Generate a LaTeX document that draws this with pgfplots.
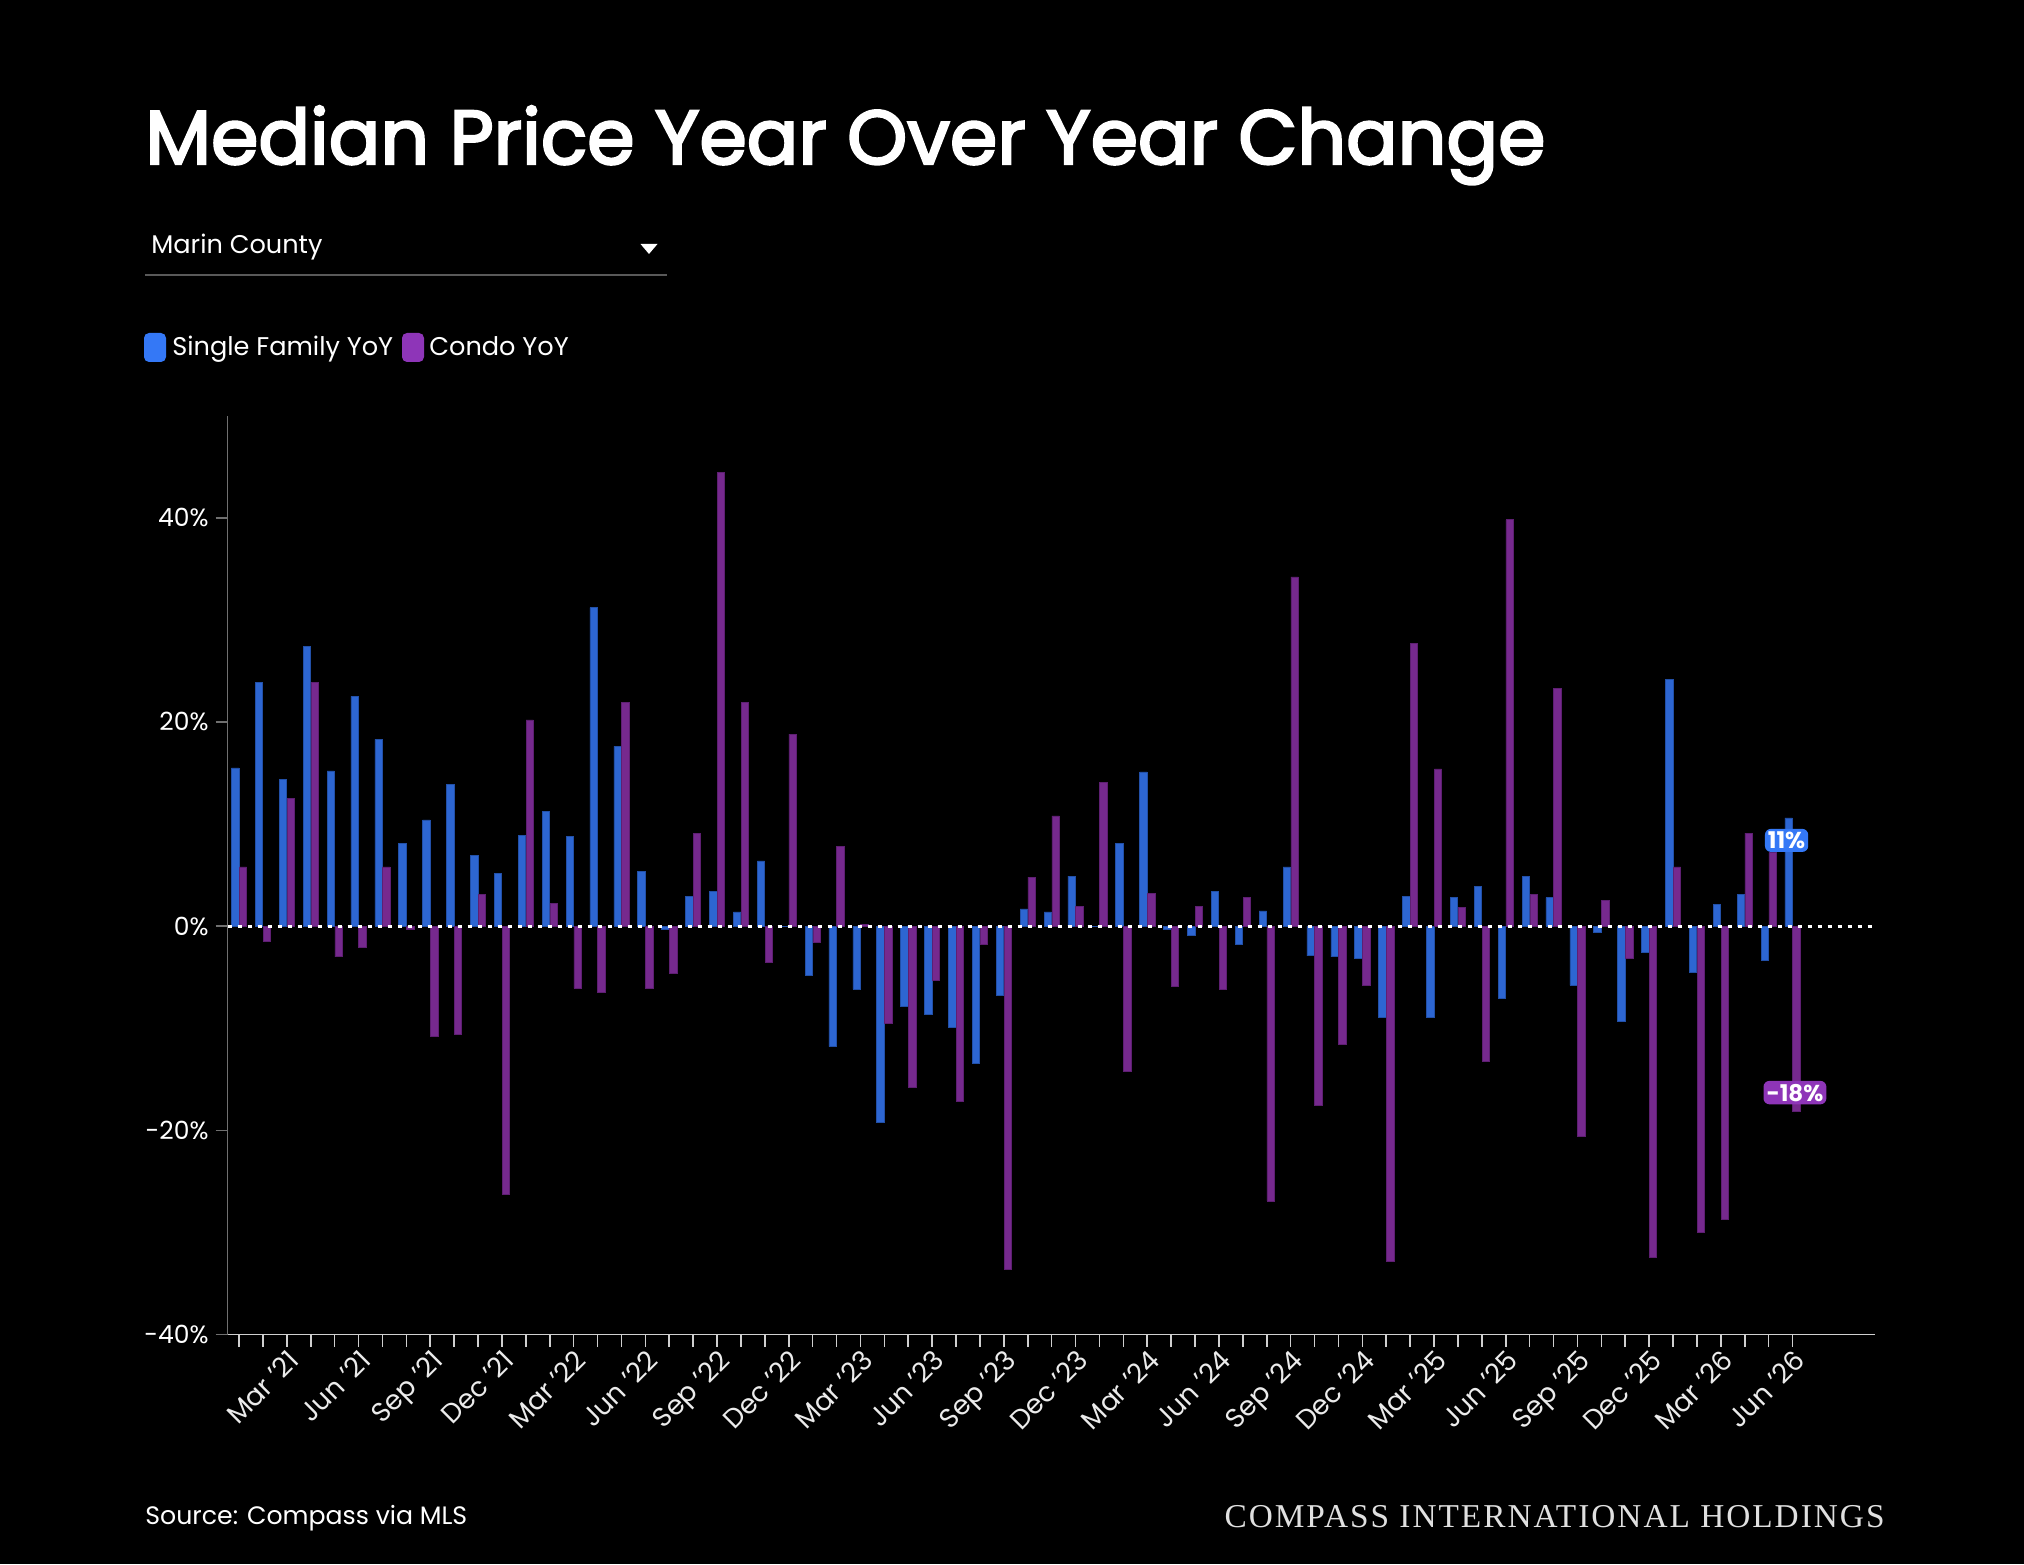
\documentclass[border=0pt]{standalone}
\usepackage{pgfplots}
\usepackage{pgfplotstable}
\pgfplotsset{compat=1.18}
\usepackage{fontspec}
\setmainfont{Poppins}
\newfontfamily\titlefont{Poppins}[FakeBold=3]
\newfontfamily\compassserif{Liberation Serif}[LetterSpace=6]
\definecolor{sfbar}{HTML}{2D66D2}
\definecolor{sfedge}{HTML}{2250A8}
\definecolor{cobar}{HTML}{76298E}
\definecolor{coedge}{HTML}{5E1F72}
\definecolor{sfleg}{HTML}{3478F6}
\definecolor{coleg}{HTML}{8E35B8}
\definecolor{xaxis}{HTML}{CFCFCF}
\definecolor{yaxis}{HTML}{707070}
\pgfplotstableread{
i sf co
0 15.5 5.8
1 23.9 -1.5
2 14.4 12.5
3 27.4 23.9
4 15.2 -3.0
5 22.5 -2.1
6 18.3 5.8
7 8.1 -0.3
8 10.4 -10.8
9 13.9 -10.6
10 6.9 3.1
11 5.2 -26.3
12 8.9 20.2
13 11.2 2.2
14 8.8 -6.1
15 31.2 -6.5
16 17.6 21.9
17 5.4 -6.1
18 -0.3 -4.6
19 2.9 9.1
20 3.4 44.4
21 1.4 21.9
22 6.4 -3.5
23 0 18.8
24 -4.8 -1.6
25 -11.8 7.8
26 -6.2 0.2
27 -19.2 -9.5
28 -7.8 -15.8
29 -8.6 -5.3
30 -9.9 -17.2
31 -13.4 -1.8
32 -6.8 -33.6
33 1.7 4.8
34 1.4 10.8
35 4.9 1.9
36 0 14.1
37 8.1 -14.2
38 15.1 3.2
39 -0.3 -5.9
40 -0.9 1.9
41 3.4 -6.2
42 -1.8 2.8
43 1.5 -26.9
44 5.8 34.2
45 -2.9 -17.5
46 -3.0 -11.6
47 -3.1 -5.8
48 -8.9 -32.8
49 2.9 27.7
50 -8.9 15.4
51 2.8 1.8
52 3.9 -13.2
53 -7.1 39.8
54 4.9 3.1
55 2.8 23.3
56 -5.8 -20.6
57 -0.6 2.5
58 -9.3 -3.1
59 -2.6 -32.4
60 24.2 5.8
61 -4.5 -30.0
62 2.1 -28.7
63 3.1 9.1
64 -3.3 7.2
65 10.6 -18.1
}\datatable
\begin{document}
\begin{tikzpicture}
\fill[black] (0,0) rectangle (1012pt,782pt);
% title
\node[anchor=base west, inner sep=0pt, text=white] at (72.5pt,700pt)
  {\resizebox{700pt}{!}{\titlefont\fontsize{40}{48}\selectfont Median Price Year Over Year Change}};
% dropdown
\node[anchor=base west, inner sep=0pt, text=white, font=\fontsize{12.8}{15}\selectfont] at (75.5pt,655pt) {Marin County};
\fill[white] (320.25pt,660pt) -- (328.75pt,660pt) -- (324.5pt,655pt) -- cycle;
\draw[color=white!35!black, line width=1pt] (72.5pt,644.5pt) -- (333.5pt,644.5pt);
% legend
\fill[sfleg, rounded corners=2.5pt] (72pt,601pt) rectangle (83pt,615.5pt);
\node[anchor=base west, inner sep=0pt, text=white, font=\fontsize{12.8}{15}\selectfont] at (86pt,604pt) {Single Family YoY};
\fill[coleg, rounded corners=2.5pt] (201pt,601pt) rectangle (212pt,615.5pt);
\node[anchor=base west, inner sep=0pt, text=white, font=\fontsize{12.8}{15}\selectfont] at (214.5pt,604pt) {Condo YoY};
% footer
\node[anchor=base west, inner sep=0pt, text=white, font=\fontsize{12.6}{16}\selectfont] at (72.5pt,20pt) {Source: Compass via MLS};
\node[anchor=base east, inner sep=0pt, text=white!88!black] at (942.5pt,18.5pt)
  {\resizebox{330pt}{!}{\compassserif\fontsize{15}{18}\selectfont COMPASS INTERNATIONAL HOLDINGS}};
\begin{axis}[
  at={(113.8pt,114.7pt)}, anchor=south west,
  scale only axis, width=823.7pt, height=459.5pt,
  xmin=-0.48, xmax=68.45, ymin=-40, ymax=50,
  axis x line*=bottom, axis y line*=left,
  axis line style={-},
  x axis line style={color=xaxis, line width=0.8pt},
  y axis line style={color=yaxis, line width=0.8pt},
  clip=false,
  xtick={2,5,...,65},
  xticklabels={Mar ’21, Jun ’21, Sep ’21, Dec ’21, Mar ’22, Jun ’22, Sep ’22, Dec ’22, Mar ’23, Jun ’23, Sep ’23, Dec ’23, Mar ’24, Jun ’24, Sep ’24, Dec ’24, Mar ’25, Jun ’25, Sep ’25, Dec ’25, Mar ’26, Jun ’26},
  minor xtick={0,...,65},
  tick align=outside,
  major tick length=6pt, minor tick length=6pt,
  x tick style={color=xaxis, line width=0.8pt},
  minor x tick style={color=xaxis, line width=0.8pt},
  ytick={-40,-20,0,20,40},
  yticklabels={-40\%,-20\%,0\%,20\%,40\%},
  y tick style={color=yaxis, line width=0.8pt},
  xticklabel style={rotate=45, anchor=north east, font=\fontsize{13.5}{15}\selectfont, text=white!92!black, inner sep=0.5pt},
  yticklabel style={font=\fontsize{12.5}{14}\selectfont, text=white},
]
\addplot[ybar, bar width=3.7pt, bar shift=-1.95pt, fill=sfbar, draw=sfedge, line width=0.3pt] table[x=i, y=sf] {\datatable};
\addplot[ybar, bar width=3.7pt, bar shift=1.95pt, fill=cobar, draw=coedge, line width=0.3pt] table[x=i, y=co] {\datatable};
\draw[white, line width=1.6pt, dash pattern=on 2.3pt off 2.7pt] (axis cs:-0.48,0) -- (axis cs:68.45,0);
\node[fill=sfleg, text=white, rounded corners=3pt, inner xsep=1.5pt, inner ysep=1.5pt, font=\bfseries\fontsize{11.5}{13}\selectfont] at (axis cs:64.75,8.4) {11\%};
\node[fill=coleg, text=white, rounded corners=3pt, inner xsep=1.5pt, inner ysep=1.5pt, font=\bfseries\fontsize{11.5}{13}\selectfont] at (axis cs:65.1,-16.3) {-18\%};
\end{axis}
\end{tikzpicture}
\end{document}
